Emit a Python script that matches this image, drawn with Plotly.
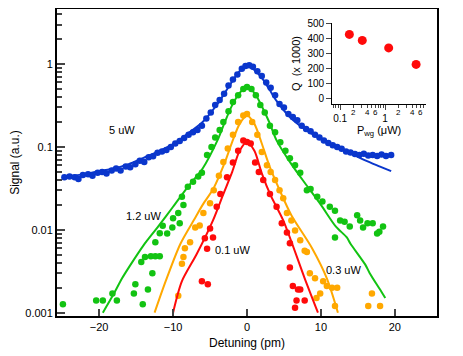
import math
import plotly.graph_objects as go

# ---- data ----
blue_x = [-24.7, -24.0, -23.3, -22.8, -22.2, -21.5, -20.9, -20.2, -19.6, -19.0, -18.3, -17.7, -17.1,
          -16.4, -15.8, -15.1, -14.5, -13.9, -13.3, -12.7, -12.1, -11.5, -10.9, -10.3, -9.7, -9.1,
          -8.5, -7.9, -7.3, -6.7, -6.1, -5.5, -4.9, -4.3, -3.7, -3.1, -2.5, -1.9, -1.3, -0.7, -0.2,
          0.3, 0.8, 1.4, 2.0, 2.6, 3.2, 3.8, 4.4, 5.0, 5.6, 6.2, 6.8, 7.4, 8.0, 8.6, 9.2, 9.8, 10.4,
          11.0, 11.6, 12.2, 12.8, 13.4, 14.0, 14.6, 15.2, 15.8, 16.4, 17.0, 17.6, 18.2, 18.8, 19.5]
blue_y = [0.043, 0.044, 0.043, 0.041, 0.046, 0.047, 0.045, 0.049, 0.050, 0.048, 0.052, 0.055, 0.052,
          0.058, 0.057, 0.062, 0.068, 0.066, 0.075, 0.077, 0.085, 0.088, 0.092, 0.100, 0.110, 0.118,
          0.128, 0.140, 0.150, 0.160, 0.180, 0.220, 0.260, 0.320, 0.370, 0.440, 0.550, 0.650, 0.750,
          0.880, 0.950, 0.970, 0.930, 0.820, 0.720, 0.600, 0.520, 0.420, 0.330, 0.300, 0.250, 0.230,
          0.210, 0.180, 0.165, 0.155, 0.140, 0.130, 0.120, 0.112, 0.105, 0.100, 0.095, 0.088, 0.086,
          0.082, 0.080, 0.083, 0.079, 0.080, 0.078, 0.081, 0.078, 0.080]
blue_fit_x = [-24.5, -22, -20, -18, -16, -14, -12, -10, -8, -6, -4, -3, -2, -1, 0, 1, 2, 3, 4, 6,
              8, 10, 12, 14, 16, 18, 19.5]
blue_fit_y = [0.044, 0.047, 0.051, 0.055, 0.062, 0.074, 0.088, 0.108, 0.145, 0.200, 0.330, 0.450,
              0.620, 0.820, 0.950, 0.850, 0.680, 0.500, 0.360, 0.220, 0.160, 0.125, 0.100, 0.084,
              0.069, 0.058, 0.051]

green_x = [-24.9, -20.4, -19.5, -18.2, -17.6, -15.3, -15.1, -14.1, -13.4, -14.3, -13.8, -13.0,
           -12.4, -12.8, -11.8, -12.4, -11.8, -11.4, -10.8, -10.1, -10.0, -9.1, -9.3, -8.6, -8.8,
           -8.0, -7.3, -6.6, -6.1, -5.4, -4.8, -4.3, -3.7, -3.2, -2.5, -1.9, -1.2, -0.5, 0.0, 0.6,
           1.2, 1.8, 2.4, 3.1, 3.8, 4.5, 5.2, 5.8, 6.5, 7.2, 8.1, 8.6, 9.5, 10.2, 11.2, 11.9, 12.6,
           13.2, 13.9, 14.9, 15.3, 15.7, 16.3, 17.0, 17.6, 18.4, 17.9, 11.9]
green_y = [0.00126, 0.0014, 0.0014, 0.0017, 0.0014, 0.0017, 0.0022, 0.00126, 0.0019, 0.0041,
           0.0047, 0.0048, 0.0048, 0.0030, 0.0048, 0.0071, 0.0091, 0.0112, 0.0090, 0.0107, 0.0138,
           0.012, 0.016, 0.020, 0.025, 0.033, 0.038, 0.044, 0.049, 0.080, 0.100, 0.130, 0.160, 0.200,
           0.270, 0.350, 0.420, 0.500, 0.530, 0.500, 0.420, 0.320, 0.260, 0.180, 0.150, 0.114, 0.090,
           0.073, 0.060, 0.049, 0.030, 0.031, 0.025, 0.022, 0.019, 0.017, 0.013, 0.0125, 0.011,
           0.015, 0.013, 0.0107, 0.012, 0.012, 0.009, 0.011, 0.0095, 0.0081]
green_fit_x = [-19.5, -18, -16.9, -16, -14, -12, -10, -8, -6, -4, -3, -2, -1, 0, 1, 2, 3, 4, 6, 8,
               10, 12, 13.5, 14, 16, 16.6, 18, 18.7]
green_fit_y = [0.001, 0.0017, 0.0026, 0.0035, 0.0065, 0.011, 0.019, 0.033, 0.055, 0.12, 0.2, 0.32,
               0.45, 0.52, 0.45, 0.31, 0.2, 0.12, 0.062, 0.035, 0.020, 0.011, 0.0081, 0.0068,
               0.0038, 0.003, 0.0019, 0.0015]

orange_x = [-9.3, -8.8, -8.6, -8.4, -7.7, -7.0, -6.4, -5.9, -5.0, -4.5, -3.8, -3.2, -2.6, -1.9,
            -1.2, -0.5, 0.0, 0.7, 1.4, 2.0, 2.7, 3.2, 3.8, 4.4, 4.9, 5.4, 6.0, 6.5, 7.2, 7.8, 8.1,
            8.5, 9.2, 9.4, 9.9, 10.3, 10.8, 11.5, 12.2, 11.9, 16.4, 16.9, 18.0]
orange_y = [0.0016, 0.0039, 0.0047, 0.006, 0.0071, 0.0107, 0.0113, 0.016, 0.021, 0.030, 0.045,
            0.066, 0.096, 0.14, 0.20, 0.24, 0.25, 0.20, 0.14, 0.087, 0.060, 0.050, 0.040, 0.030,
            0.024, 0.016, 0.013, 0.0098, 0.0075, 0.0056, 0.0054, 0.003, 0.0026, 0.0015, 0.0017,
            0.0024, 0.0021, 0.002, 0.002, 0.0012, 0.0012, 0.0017, 0.0012]
orange_fit_x = [-12.5, -11, -9, -7, -6, -4.5, -3, -2, -1, 0, 1, 2, 3, 4.5, 6, 8.8, 10.8, 12.3]
orange_fit_y = [0.001, 0.0024, 0.0068, 0.014, 0.02, 0.032, 0.065, 0.115, 0.19, 0.24, 0.19, 0.11,
                0.06, 0.029, 0.015, 0.006, 0.0026, 0.001]

red_x = [-6.1, -5.3, -5.4, -4.6, -5.7, -5.0, -4.1, -3.6, -2.7, -1.9, -1.2, -0.5, 0.0, 0.5, 1.1,
         1.6, 2.2, 3.1, 4.0, 4.7, 5.4, 5.8, 5.8, 6.2, 6.9, 7.2, 6.7, 7.8, 6.5]
red_y = [0.0024, 0.0022, 0.0059, 0.0081, 0.0079, 0.0104, 0.019, 0.027, 0.043, 0.065, 0.090, 0.120,
         0.115, 0.110, 0.065, 0.050, 0.040, 0.027, 0.019, 0.012, 0.0093, 0.0069, 0.0035, 0.0021,
         0.0019, 0.0019, 0.0014, 0.0014, 0.00115]
red_fit_x = [-10, -8.8, -6.8, -4.6, -3.2, -2, -1, 0, 1, 2, 3.2, 4.9, 7.8, 9.6]
red_fit_y = [0.001, 0.0024, 0.0051, 0.013, 0.027, 0.05, 0.09, 0.115, 0.09, 0.048, 0.026, 0.013,
             0.0026, 0.001]

# inset: Q factor vs waveguide power
p_wg = [0.16, 0.31, 1.2, 4.9]
q_k = [430, 390, 340, 230]

BLUE = '#0a36cc'
GREEN = '#12c312'
ORANGE = '#ffa800'
RED = '#ff0a0a'
FONT = 'Arial, Liberation Sans, sans-serif'

fig = go.Figure()

series = [(blue_x, blue_y, blue_fit_x, blue_fit_y, BLUE),
          (green_x, green_y, green_fit_x, green_fit_y, GREEN),
          (orange_x, orange_y, orange_fit_x, orange_fit_y, ORANGE),
          (red_x, red_y, red_fit_x, red_fit_y, RED)]
for dx, dy, fx, fy, col in series:
    fig.add_trace(go.Scatter(x=fx, y=fy, mode='lines',
                             line=dict(color=col, width=2, shape='spline', smoothing=0.8),
                             showlegend=False))
    fig.add_trace(go.Scatter(x=dx, y=dy, mode='markers', marker=dict(color=col, size=6.5),
                             showlegend=False))

fig.add_trace(go.Scatter(x=p_wg, y=q_k, mode='markers', marker=dict(color=RED, size=9),
                         xaxis='x2', yaxis='y2', showlegend=False))

# minor ticks for log axes
y_minor = [m * 10 ** e for e in range(-3, 1) for m in range(2, 10)]
x2_minor = [m * 10 ** e for e in range(-2, 1) for m in range(2, 10)]
x2_minor = [v for v in x2_minor if 0.065 < v < 8]

# the page adds an 8px body margin, so the figure is made 8px smaller each way
fig.update_layout(
    width=455, height=348,
    margin=dict(l=49, r=26, t=1, b=40),
    plot_bgcolor='white', paper_bgcolor='white',
    font=dict(family=FONT, size=11, color='black'),
    xaxis=dict(range=[-25.7, 25.7], tickvals=[-20, -10, 0, 10, 20], ticks='inside', ticklen=7,
               tickwidth=2, showline=True, linewidth=2, linecolor='black', mirror=True,
               showgrid=False, zeroline=False, automargin=False,
               title=dict(text='Detuning (pm)', font=dict(size=12), standoff=6)),
    yaxis=dict(type='log', range=[-3.04, 0.665], tickvals=[0.001, 0.01, 0.1, 1],
               ticktext=['0.001', '0.01', '0.1', '1'], ticks='inside', ticklen=8, tickwidth=2,
               minor=dict(tickvals=y_minor, ticks='inside', ticklen=5, tickwidth=1.5),
               showline=True, linewidth=2, linecolor='black', mirror=True,
               showgrid=False, zeroline=False, automargin=False,
               title=dict(text='Signal (a.u.)', font=dict(size=12), standoff=8)),
    xaxis2=dict(type='log', domain=[0.724, 0.971], anchor='y2', range=[-1.18, 0.91],
                tickvals=[0.1, 1], ticktext=['0.1', '1'], ticks='outside', ticklen=5,
                minor=dict(tickvals=x2_minor, ticks='outside', ticklen=3),
                showline=True, linewidth=1, linecolor='black', showgrid=False, zeroline=False,
                tickfont=dict(size=10), automargin=False,
                title=dict(text='P<sub>wg</sub> (μW)', font=dict(size=11), standoff=0)),
    yaxis2=dict(domain=[0.691, 0.954], anchor='x2', range=[-33, 505],
                tickvals=[0, 100, 200, 300, 400, 500], ticks='outside', ticklen=5,
                showline=True, linewidth=1, linecolor='black', showgrid=False, zeroline=False,
                tickfont=dict(size=10), automargin=False,
                title=dict(text='Q  (x 1000)', font=dict(size=11), standoff=4)),
)

# curve labels
labels = [(-16.9, -0.80, '5 uW'), (-14.0, -1.83, '1.2 uW'), (-2.0, -2.24, '0.1 uW'),
          (13.0, -2.49, '0.3 uW')]
for lx, ly, txt in labels:
    fig.add_annotation(x=lx, y=ly, xref='x', yref='y', text=txt, showarrow=False,
                       font=dict(size=11))

# small minor-tick labels on the inset x axis
for v, t in [(0.2, '2'), (0.4, '4'), (0.6, '6'), (2, '2'), (4, '4'), (6, '6')]:
    fig.add_annotation(x=math.log10(v), y=0.662, xref='x2', yref='paper', text=t,
                       showarrow=False, font=dict(size=8))

fig.write_html('out.html')
